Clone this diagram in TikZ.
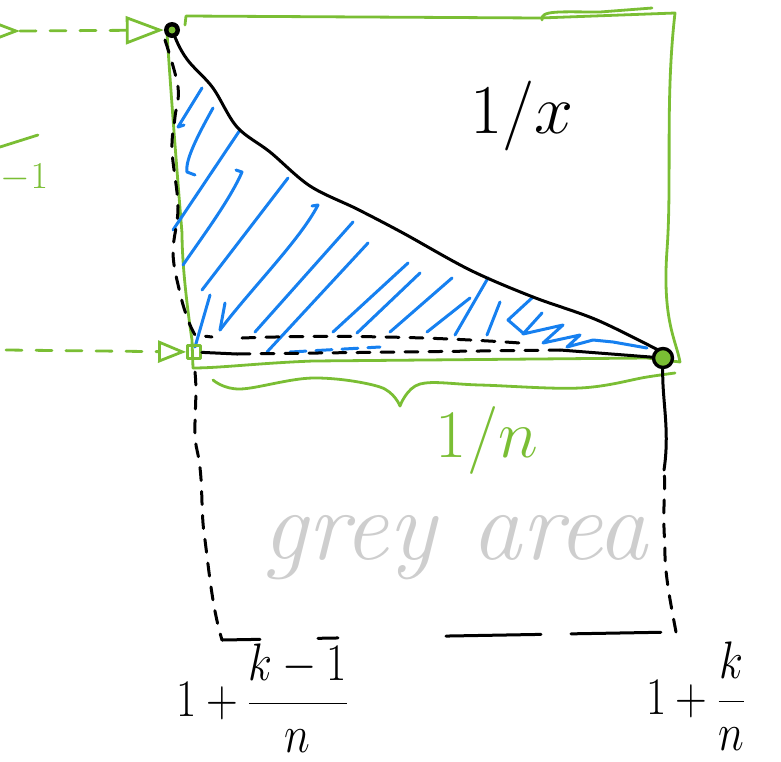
\RequirePackage{fix-cm}
\documentclass[tikz,border=0pt]{standalone}
\usepackage{fontspec}
\usetikzlibrary{arrows.meta}
\definecolor{pgreen}{RGB}{122,190,52}
\definecolor{pblue}{RGB}{22,128,240}
\definecolor{pgrey}{RGB}{206,206,206}
\begin{document}
\begin{tikzpicture}[x=1pt,y=-1pt,line cap=round,line join=round,
  gline/.style={draw=pgreen,line width=2.8pt},
  bline/.style={draw=black,line width=3pt},
  bdash/.style={draw=black,line width=3pt,dash pattern=on 13pt off 11pt},
  gdash/.style={draw=pgreen,line width=2.8pt,dash pattern=on 16pt off 14pt},
  hatch/.style={draw=pblue,line width=3pt},
  bigtip/.style={-{Triangle[open,length=38pt,width=28pt,line width=2.8pt]}},
  smalltip/.style={-{Triangle[open,length=28pt,width=22pt,line width=2.8pt]}},
  lbl/.style={inner sep=0pt,outer sep=0pt}]
\useasboundingbox (0,0) rectangle (781,761);

% ---- named points
\coordinate (t0) at (-40,31);
\coordinate (ta) at (20,31);
\coordinate (b0) at (6,350);
\coordinate (r1) at (242,338);
\coordinate (r2) at (520,343);
\coordinate (s1) at (237,354);
\coordinate (s2) at (560,350);
\coordinate (dl) at (195,372);
\coordinate (dbl) at (222,640);
\coordinate (dbr) at (676,632);
\coordinate (dr) at (664,470);

% ---- green frame
\draw[gline] (185,25) -- (186,16) -- (540,18) -- (675,13)
  .. controls (665,100) and (672,180) .. (667,250)
  .. controls (662,320) and (676,340) .. (680,362)
  -- (647,358) -- (313,361) .. controls (260,363) and (220,368) .. (193,368);
\draw[gline] (193,368) -- (192,340) .. controls (186,300) and (182,260) .. (182,233)
  .. controls (176,160) and (170,80) .. (167,33);
\draw[gline] (542,20) .. controls (540,10) and (560,12) .. (600,12) -- (652,8);

% ---- blue hatching
\draw[hatch] (202,88) -- (178,127) -- (184,125);
\draw[hatch] (213,108) .. controls (198,135) and (185,160) .. (187,172) -- (195,175);
\draw[hatch] (240,130) -- (173,230);
\draw[hatch] (236,170) -- (242,172) .. controls (230,200) and (200,240) .. (183,265);
\draw[hatch] (288,178) -- (202,290);
\draw[hatch] (312,206) -- (318,205) .. controls (300,240) and (250,290) .. (220,330);
\draw[hatch] (210,295) -- (195,347);
\draw[hatch] (225,303) -- (220,330);
\draw[hatch] (353,222) -- (255,332);
\draw[hatch] (368,243) -- (267,352);
\draw[hatch] (408,263) -- (333,332);
\draw[hatch] (420,273) -- (357,333);
\draw[hatch] (452,278) -- (390,332);
\draw[hatch] (470,298) -- (427,332);
\draw[hatch] (488,278) -- (455,335);
\draw[hatch] (500,302) -- (487,335);
\draw[hatch] (533,297) -- (508,320) -- (523,333);
\draw[hatch] (542,313) -- (523,334) -- (563,325) -- (543,343) -- (580,335)
  -- (567,347) -- (593,340) -- (613,342) -- (647,348);
\draw[hatch,dash pattern=on 16pt off 10pt] (290,352) -- (380,347);

% ---- dashed guides inside
\draw[bdash] plot[smooth,tension=0.6] coordinates {(165,40) (178,87) (175,117) (172,150) (178,207) (173,253) (180,293) (188,320) (195,335)} -- (212,337);
\draw[bdash] (r1) .. controls (320,335) and (420,336) .. (r2);
\draw[bdash] (s1) -- (s2);

% ---- 1/x curve
\draw[bline] plot[smooth,tension=0.55] coordinates {(172,30) (180,48) (190,63) (213,88) (237,127) (270,152) (310,186) (357,209) (403,233) (470,270) (533,297) (597,320) (662,352)};

% ---- dots
\node[circle,fill=black,minimum size=16pt,inner sep=0pt] (P) at (172,30) {};
\fill[pgreen] (P) circle (3.5);
\node[circle,draw=black,line width=3.4pt,fill=pgreen,minimum size=19pt,inner sep=0pt] (Q) at (663,358) {};
\node[draw=pgreen,line width=2.8pt,minimum size=13pt,inner sep=0pt] (L) at (194,352) {};

\draw[bline] (L) -- (s1);
\draw[bline] (s2) -- (Q);

% ---- green arrows from left
\draw[gdash,bigtip] (t0) -- (ta);
\draw[gdash,bigtip] (ta) -- (P);
\draw[gdash,smalltip] (b0) -- (L);

% ---- green fragment at left
\draw[gline] (0,147) -- (38,135);
\node[lbl,text=pgreen,font=\fontsize{38}{42}\selectfont,anchor=west] (m1) at (1,178) {$-1$};

% ---- brace
\draw[gline] plot[smooth,tension=0.6] coordinates {(213,380) (240,389) (313,378) (380,387) (400,406)};
\draw[gline] plot[smooth,tension=0.6] coordinates {(400,406) (420,384) (480,385) (580,388) (647,377) (675,373)};

% ---- lower dashed box
\draw[bdash] (dl) .. controls (198,400) and (192,430) .. (197,450)
  .. controls (204,480) and (200,510) .. (205,540)
  .. controls (210,580) and (213,610) .. (dbl);
\draw[bline,dash pattern=on 38pt off 58pt on 20pt off 108pt on 95pt off 30pt on 90pt off 20pt] (dbl) -- (dbr);
\draw[bdash] (dbr) .. controls (670,600) and (664,570) .. (665,545) .. controls (662,510) and (666,490) .. (dr);
\draw[bline] (Q) .. controls (662,400) and (670,430) .. (dr);

% ---- labels
\node[lbl,font=\fontsize{70}{74}\selectfont] (fx) at (522,116) {$1/x$};
\node[lbl,text=pgreen,font=\fontsize{68}{72}\selectfont] (fn) at (487,440) {$1/n$};
\node[lbl,text=pgrey,font=\fontsize{100}{104}\selectfont\itshape] (grey) at (455,548) {grey area};
\node[lbl,font=\fontsize{44}{48}\selectfont] (lk1) at (262,698) {\scalebox{1}[1.2]{$1+\displaystyle\frac{k-1}{n}$}};
\node[lbl,font=\fontsize{44}{48}\selectfont,anchor=west] (lk) at (646,696) {\scalebox{1}[1.2]{$1+\displaystyle\frac{k}{n}$}};
\end{tikzpicture}
\end{document}
